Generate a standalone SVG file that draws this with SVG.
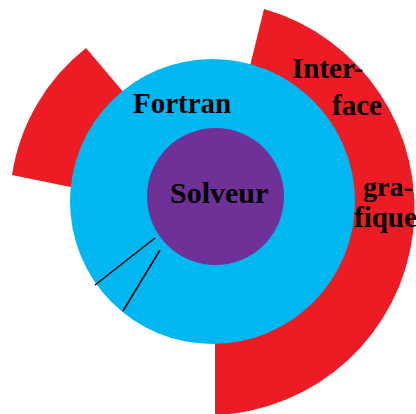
<svg xmlns="http://www.w3.org/2000/svg" width="416" height="414" viewBox="0 0 416 414">
<style>
.red{fill:#ED1C24}
.lbl{font-family:"Liberation Serif","Times New Roman",serif;font-weight:bold;fill:#000}
.conn{stroke:#000;stroke-width:1.5;fill:none}
</style>
<rect width="416" height="414" fill="#fff"/>
<g id="interface">
<path class="red" d="M215,208 L264,9 A207,207 0 0,1 215,415 Z"/>
</g>
<g id="wedge">
<path class="red" d="M86,48 A200,200 0 0,0 12,175 L90,191 L130,100 Z"/>
</g>
<g id="fortran">
<circle cx="212.5" cy="201.5" r="142.5" fill="#00B7EF"/>
</g>
<g id="solveur">
<circle cx="215.5" cy="196.5" r="68.5" fill="#6F3198"/>
</g>
<g id="connectors">
<line class="conn" x1="95" y1="285" x2="155" y2="238"/>
<line class="conn" x1="123" y1="311" x2="160" y2="250"/>
</g>
<g id="labels">
<text class="lbl" x="133" y="113" font-size="29">Fortran</text>
<text class="lbl" x="170" y="203" font-size="30">Solveur</text>
<text class="lbl" x="292" y="78" font-size="29">Inter-</text>
<text class="lbl" x="332" y="115" font-size="29">face</text>
<text class="lbl" x="363" y="196" font-size="28">gra-</text>
<text class="lbl" x="354" y="227" font-size="29">fique</text>
</g>
</svg>
